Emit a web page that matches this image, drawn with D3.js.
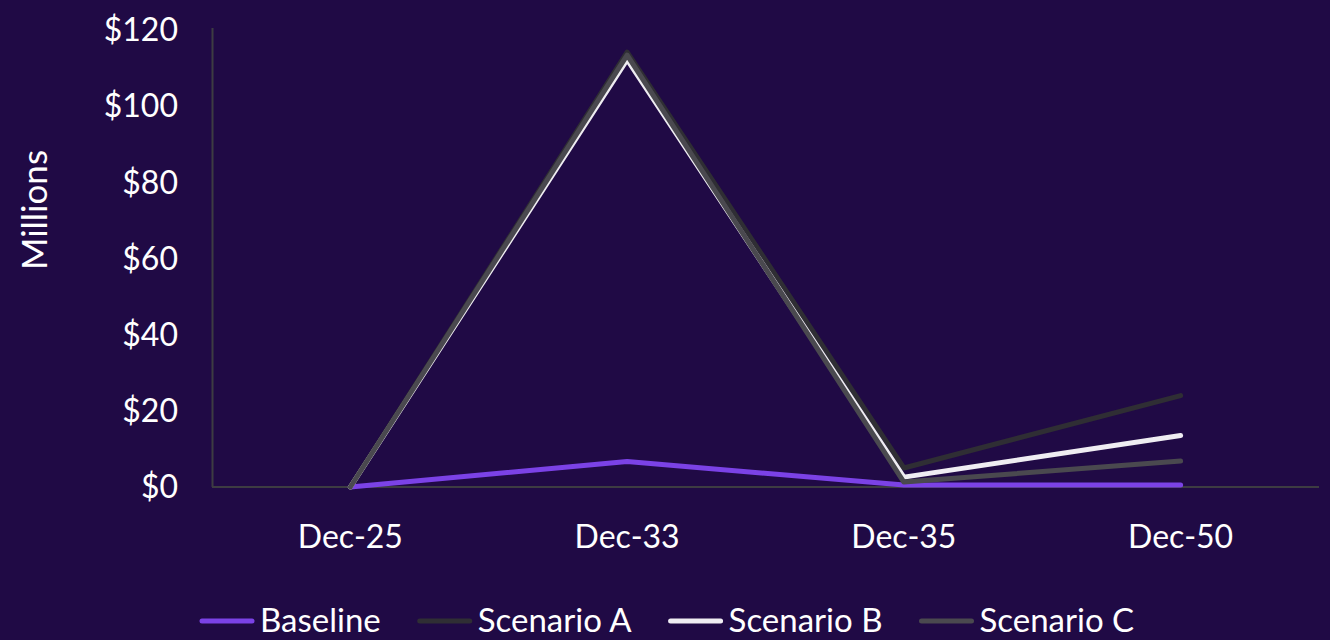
<!DOCTYPE html>
<html>
<head>
<meta charset="utf-8">
<script src="https://cdn.jsdelivr.net/npm/d3@7"></script>
<style>
  html, body { margin: 0; padding: 0; background: #200a45; }
  svg { display: block; }
</style>
</head>
<body>
<div id="chart"></div>
<script>
// Data
const categories = ['Dec-25', 'Dec-33', 'Dec-35', 'Dec-50'];
const baseline = [0, 6.7, 0.5, 0.5];
const scenarioA = [0, 114.2, 5.0, 24.0];
const scenarioB = [0, 112.2, 2.6, 13.5];
const scenarioC = [0, 113.4, 1.3, 6.8];
const yTicks = [0, 20, 40, 60, 80, 100, 120];

const series = [
  { name: 'Baseline', values: baseline, color: '#7b42e6' },
  { name: 'Scenario A', values: scenarioA, color: '#2f2e34' },
  { name: 'Scenario B', values: scenarioB, color: '#efedf2' },
  { name: 'Scenario C', values: scenarioC, color: '#4a494f' },
];

const width = 1330;
const height = 640;
const font = 'Lato, sans-serif';

const svg = d3.select('#chart')
  .append('svg')
  .attr('width', width)
  .attr('height', height);

svg.append('rect').attr('width', width).attr('height', height).attr('fill', '#200a45');

const x = d3.scaleBand().domain(categories).range([212, 1319]);
const y = d3.scaleLinear().domain([0, 120]).range([487, 30]);

// Y tick labels
svg.append('g')
  .selectAll('text')
  .data(yTicks)
  .join('text')
  .attr('x', 178)
  .attr('y', d => y(d))
  .attr('dy', '0.35em')
  .attr('text-anchor', 'end')
  .attr('fill', '#ffffff')
  .attr('font-family', font)
  .attr('font-size', '32px')
  .text(d => '$' + d);

// X labels
svg.append('g')
  .selectAll('text')
  .data(categories)
  .join('text')
  .attr('x', d => x(d) + x.bandwidth() / 2)
  .attr('y', 548)
  .attr('text-anchor', 'middle')
  .attr('fill', '#ffffff')
  .attr('font-family', font)
  .attr('font-size', '32px')
  .text(d => d);

// Axis title
svg.append('text')
  .attr('transform', 'translate(47,210) rotate(-90)')
  .attr('text-anchor', 'middle')
  .attr('fill', '#ffffff')
  .attr('font-family', font)
  .attr('font-size', '35px')
  .text('Millions');

// Axis lines
svg.append('line')
  .attr('x1', 212.5).attr('x2', 212.5)
  .attr('y1', y(120) - 2).attr('y2', y(0))
  .attr('stroke', '#3d3c42').attr('stroke-width', 2);
svg.append('line')
  .attr('x1', 212).attr('x2', 1319)
  .attr('y1', y(0)).attr('y2', y(0))
  .attr('stroke', '#3d3c42').attr('stroke-width', 2);

// Lines
const line = d3.line()
  .x((d, i) => x(categories[i]) + x.bandwidth() / 2)
  .y(d => y(d));

svg.append('g')
  .selectAll('path')
  .data(series)
  .join('path')
  .attr('d', d => line(d.values))
  .attr('fill', 'none')
  .attr('stroke', d => d.color)
  .attr('stroke-width', 5)
  .attr('stroke-linecap', 'round')
  .attr('stroke-linejoin', 'round');

// Legend
const legend = svg.append('g');
let lx = 199;
const ly = 621;
series.forEach(s => {
  legend.append('line')
    .attr('x1', lx + 3).attr('x2', lx + 53)
    .attr('y1', ly).attr('y2', ly)
    .attr('stroke', s.color)
    .attr('stroke-width', 5)
    .attr('stroke-linecap', 'round');
  const t = legend.append('text')
    .attr('x', lx + 61)
    .attr('y', ly + 11)
    .attr('fill', '#ffffff')
    .attr('font-family', font)
    .attr('font-size', '33px')
    .text(s.name);
  lx += 61 + t.node().getComputedTextLength() + 36;
});
</script>
</body>
</html>
